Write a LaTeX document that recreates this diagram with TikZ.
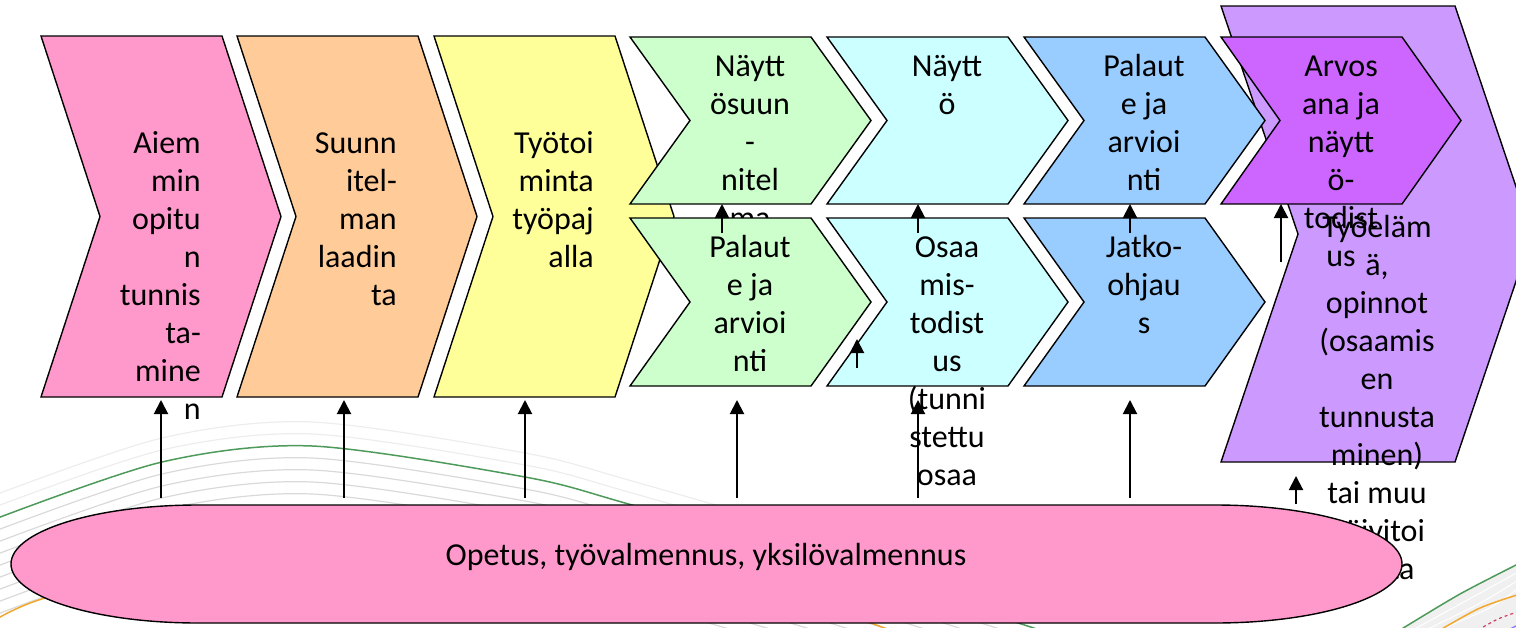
\documentclass[tikz,border=0pt]{standalone}
\usepackage{fontspec}
\setmainfont{Carlito}
\usetikzlibrary{arrows.meta}
\definecolor{cpink}{HTML}{FF99CC}
\definecolor{corange}{HTML}{FFCC99}
\definecolor{cyellow}{HTML}{FFFF99}
\definecolor{cgreen}{HTML}{CCFFCC}
\definecolor{ccyan}{HTML}{CCFFFF}
\definecolor{cblue}{HTML}{99CCFF}
\definecolor{cmagenta}{HTML}{CC66FF}
\definecolor{cpurple}{HTML}{CC99FF}
\definecolor{bggreen}{HTML}{4E9A5A}
\definecolor{bgorange}{HTML}{F0A830}
\definecolor{bgred}{HTML}{D04060}
\newcommand\chevshape[6]{\path[chevbox,fill=#1] (#2,#3) -- ++(#4,0) -- ++(#6,#5/2) -- ++(-#6,#5/2) -- ++(-#4,0) -- ++(#6,-#5/2) -- cycle;}
\begin{document}
\begin{tikzpicture}[x=1pt,y=-1pt,
  chevbox/.style={draw=black,line width=1.4pt,line join=miter},
  lbl/.style={inner sep=0pt,font=\fontsize{32}{38}\selectfont,anchor=north,align=center},
  rlbl/.style={lbl,anchor=north east,align=right},
  upar/.style={line width=2pt,-{Triangle[length=14pt,width=14pt]}},
  bgline/.style={gray!30,line width=1.2pt},
  bgfaint/.style={gray!14,line width=1.2pt}]
\useasboundingbox (0,0) rectangle (1516,627);
% ---------- background swooshes ----------
\foreach \d in {-24,-12}
  \draw[bgfaint] plot[smooth] coordinates {(-5,519+\d) (162,462+\d) (312,446+\d) (525,477+\d) (625,503+\d) (820,560+\d) (1040,630+\d)};
\foreach \d in {12,24,36,48,60,72,84,96}
  \draw[bgline] plot[smooth] coordinates {(-5,519+\d) (162,462+\d) (312,446+\d) (525,477+\d) (625,503+\d) (820,560+\d) (1040,630+\d)};
\draw[bggreen,line width=1.5pt] plot[smooth] coordinates {(-5,519) (162,462) (312,446) (525,477) (625,503) (820,560) (1040,630)};
\draw[bgorange,line width=1.5pt] plot[smooth] coordinates {(-5,620) (45,598) (200,560) (450,545) (700,570) (890,630)};
% bottom right corner
\fill[gray!12] plot[smooth] coordinates {(1400,630) (1460,594) (1520,563)} -- (1520,630) -- cycle;
\foreach \d in {8,16,24}
  \draw[white,line width=1pt] plot[smooth] coordinates {(1400+\d*1.6,630) (1460+\d*1.2,594+\d*0.6) (1520,563+\d)};
\draw[bggreen,line width=1.5pt] plot[smooth] coordinates {(1400,630) (1460,594) (1520,563)};
\draw[bgorange,line width=1.5pt] plot[smooth] coordinates {(1440,630) (1480,608) (1520,594)};
\draw[bgred,line width=1.2pt,dashed] plot[smooth] coordinates {(1478,630) (1498,619) (1520,611)};
\draw[cpurple!70!blue,line width=1.2pt] plot[smooth] coordinates {(1508,630) (1520,624)};
% ---------- big purple chevron ----------
\chevshape{cpurple}{1221}{6}{234}{456}{77}
\node[lbl] (tpurple) at (1377,210.4) {\strut Työeläm\\ä,\\opinnot\\(osaamis\\en\\tunnusta\\minen)\\tai muu\\päivitoi\\minta};
% ---------- first three chevrons ----------
\chevshape{cpink}{41}{36}{181}{361}{59}
\node[rlbl] (tpink) at (201,126.4) {\strut Aiem\\min\\opitu\\n\\tunnis\\ta-\\mine\\n};
\chevshape{corange}{237}{36}{181}{361}{59}
\node[rlbl] (torange) at (397,126.4) {\strut Suunn\\itel-\\man\\laadin\\ta};
\chevshape{cyellow}{434}{36}{181}{361}{59}
\node[rlbl] (tyellow) at (594,126.4) {\strut Työtoi\\minta\\työpaj\\alla};
% ---------- two rows ----------
\chevshape{cgreen}{630}{37}{181}{167}{60}
\node[lbl] (tgreenA) at (750,49.4) {\strut Näytt\\ösuun\\-\\nitel\\ma};
\chevshape{cgreen}{630}{218}{181}{168}{60}
\node[lbl] (tgreenB) at (750,230.4) {\strut Palaut\\e ja\\arvioi\\nti};
\chevshape{ccyan}{827}{37}{181}{167}{60}
\node[lbl] (tcyanA) at (947,49.4) {\strut Näytt\\ö};
\chevshape{ccyan}{827}{218}{181}{168}{60}
\node[lbl] (tcyanB) at (947,230.4) {\strut Osaa\\mis-\\todist\\us\\(tunni\\stettu\\osaa};
\chevshape{cblue}{1024}{37}{181}{167}{60}
\node[lbl] (tblueA) at (1144,49.4) {\strut Palaut\\e ja\\arvioi\\nti};
\chevshape{cblue}{1024}{218}{181}{168}{60}
\node[lbl] (tblueB) at (1144,230.4) {\strut Jatko-\\ohjau\\s};
\chevshape{cmagenta}{1221}{37}{181}{167}{59}
\node[lbl] (tmagenta) at (1341,49.4) {\strut Arvos\\ana ja\\näytt\\ö-\\todist\\us};
% ---------- arrows ----------
\foreach \n/\x in {1/161,2/344,3/525,4/737,5/918,6/1130}{
  \coordinate (lo\n) at (\x,498);
  \coordinate (hi\n) at (\x,400);
  \draw[upar] (lo\n) -- (hi\n);
}
\foreach \n/\x/\ya/\yb in {7/722/233/204,8/918/233/204,9/1130/233/204,10/1281/262/204,11/857/368/339,12/1296/504/476}{
  \coordinate (lo\n) at (\x,\ya);
  \coordinate (hi\n) at (\x,\yb);
  \draw[upar] (lo\n) -- (hi\n);
}
% ---------- base ellipse ----------
\path[chevbox,fill=cpink] (198,505) -- (1215,505)
  .. controls (1318.3,505) and (1402,531.4) .. (1402,564)
  .. controls (1402,596.6) and (1318.3,623) .. (1215,623)
  -- (198,623)
  .. controls (94.7,623) and (11,596.6) .. (11,564)
  .. controls (11,531.4) and (94.7,505) .. (198,505) -- cycle;
\node[inner sep=0pt,font=\fontsize{32}{38}\selectfont,anchor=base] (opetus) at (706,565) {Opetus, työvalmennus, yksilövalmennus};
\end{tikzpicture}
\end{document}
